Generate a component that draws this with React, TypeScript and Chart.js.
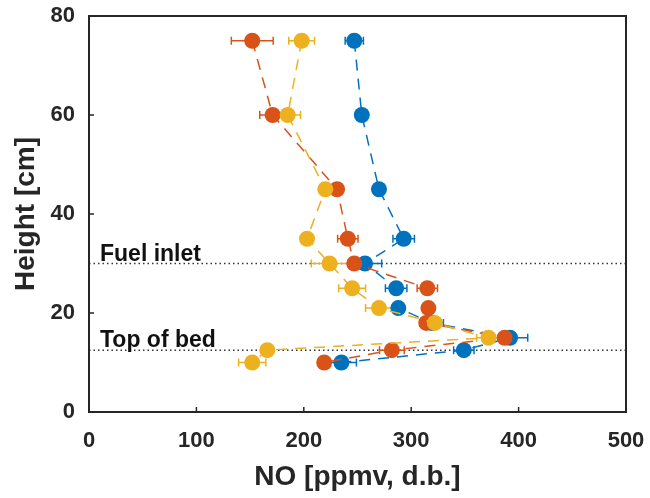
import React, { useEffect, useRef } from "react";
import { Chart, registerables } from "chart.js";

Chart.register(...registerables);

// ---- data ----
const heights = [75, 60, 45, 35, 30, 25, 21, 18, 15, 12.5, 10];
const blueNO = [247, 254, 270, 293, 257, 286, 288, 319, 392, 349, 235];
const blueErr = [8.5, 2, 3, 10, 15.5, 10, 5, 11, 16.5, 9.5, 14];
const orangeNO = [152, 171, 231, 241, 247, 315, 316, 314, 387, 282, 219];
const orangeErr = [19.5, 12, 3, 9.5, 5, 9.5, 5, 5, 5, 11.5, 5];
const yellowNO = [198, 185, 220, 203, 224, 245, 270, 322, 372, 166, 152];
const yellowErr = [12, 12, 3, 4, 17, 12.5, 12.5, 5, 11, 4, 12.7];
const seriesNames = ["Series 1", "Series 2", "Series 3"];
const seriesColors = ["#0072BD", "#D95319", "#EDB120"];
const xTicks = [0, 100, 200, 300, 400, 500];
const yTicks = [0, 20, 40, 60, 80];
const refHeights = [30, 12.5];
const refLabels = ["Fuel inlet", "Top of bed"];

const FONT = "'Liberation Sans', Arial, Helvetica, sans-serif";
const AXIS = "#262626";

const overlay = {
  id: "overlay",
  beforeDatasetsDraw(chart: any) {
    const { ctx, chartArea: a, scales } = chart;
    const x = scales.x, y = scales.y;
    ctx.save();
    // reference lines + labels
    ctx.strokeStyle = "#333333";
    ctx.lineWidth = 1.5;
    ctx.setLineDash([1.5, 3]);
    ctx.font = `bold 23px ${FONT}`;
    ctx.fillStyle = "#111111";
    ctx.textAlign = "left";
    ctx.textBaseline = "alphabetic";
    refHeights.forEach((h, i) => {
      const py = y.getPixelForValue(h);
      ctx.beginPath();
      ctx.moveTo(a.left, py);
      ctx.lineTo(a.right, py);
      ctx.stroke();
      ctx.fillText(refLabels[i], a.left + 11, py - 3);
    });
    ctx.setLineDash([]);
    // horizontal error bars
    chart.data.datasets.forEach((ds: any) => {
      ctx.strokeStyle = ds.borderColor;
      ctx.lineWidth = 1.5;
      ds.data.forEach((p: any, i: number) => {
        const e = ds.errors[i];
        const l = x.getPixelForValue(p.x - e);
        const r = x.getPixelForValue(p.x + e);
        const py = y.getPixelForValue(p.y);
        ctx.beginPath();
        ctx.moveTo(l, py);
        ctx.lineTo(r, py);
        ctx.moveTo(l, py - 4);
        ctx.lineTo(l, py + 4);
        ctx.moveTo(r, py - 4);
        ctx.lineTo(r, py + 4);
        ctx.stroke();
      });
    });
    ctx.restore();
  },
  afterDraw(chart: any) {
    const { ctx, chartArea: a, scales } = chart;
    const x = scales.x, y = scales.y;
    ctx.save();
    ctx.strokeStyle = AXIS;
    ctx.lineWidth = 2;
    ctx.setLineDash([]);
    ctx.strokeRect(a.left, a.top, a.right - a.left, a.bottom - a.top);
    ctx.lineWidth = 1.5;
    ctx.beginPath();
    x.ticks.forEach((t: any) => {
      const px = x.getPixelForValue(t.value);
      ctx.moveTo(px, a.bottom);
      ctx.lineTo(px, a.bottom - 5);
    });
    y.ticks.forEach((t: any) => {
      const py = y.getPixelForValue(t.value);
      ctx.moveTo(a.left, py);
      ctx.lineTo(a.left + 5, py);
    });
    ctx.stroke();
    ctx.restore();
  },
};

function makeDataset(i: number, xs: number[], errs: number[], order: number) {
  return {
    label: seriesNames[i],
    data: heights.map((h, k) => ({ x: xs[k], y: h })),
    errors: errs,
    showLine: true,
    borderColor: seriesColors[i],
    backgroundColor: seriesColors[i],
    borderWidth: 1.5,
    borderDash: [11, 8],
    pointRadius: 8,
    pointBorderWidth: 0,
    pointBackgroundColor: seriesColors[i],
    pointBorderColor: seriesColors[i],
    tension: 0,
    order,
  };
}

function zeroPad(s: any) {
  s.paddingTop = 0;
  s.paddingBottom = 0;
  s.paddingLeft = 0;
  s.paddingRight = 0;
}

export default function App() {
  const ref = useRef<HTMLCanvasElement>(null);
  useEffect(() => {
    if (!ref.current) return;
    const chart = new Chart(ref.current, {
      type: "scatter",
      data: {
        datasets: [
          makeDataset(0, blueNO, blueErr, 2),
          makeDataset(1, orangeNO, orangeErr, 1),
          makeDataset(2, yellowNO, yellowErr, 0),
        ] as any,
      },
      options: {
        animation: false,
        responsive: false,
        layout: { padding: { left: 0, right: 24, top: 16, bottom: 0 } },
        plugins: { legend: { display: false }, tooltip: { enabled: false } },
        scales: {
          x: {
            type: "linear",
            min: 0,
            max: 500,
            grid: { display: false, drawTicks: false },
            border: { display: false },
            afterBuildTicks: (s: any) => {
              s.ticks = xTicks.map((v) => ({ value: v }));
            },
            afterFit: (s: any) => {
              s.height = 86;
              zeroPad(s);
            },
            ticks: {
              color: AXIS,
              padding: 16,
              font: { family: FONT, size: 22, weight: "bold" },
            },
            title: {
              display: true,
              text: "NO [ppmv, d.b.]",
              color: AXIS,
              font: { family: FONT, size: 28, weight: "bold" },
              padding: { top: 0, bottom: 4 },
            },
          },
          y: {
            type: "linear",
            min: 0,
            max: 80,
            grid: { display: false, drawTicks: false },
            border: { display: false },
            afterBuildTicks: (s: any) => {
              s.ticks = yTicks.map((v) => ({ value: v }));
            },
            afterFit: (s: any) => {
              s.width = 89;
              zeroPad(s);
            },
            ticks: {
              color: AXIS,
              padding: 14,
              font: { family: FONT, size: 22, weight: "bold" },
            },
            title: {
              display: true,
              text: "Height [cm]",
              color: AXIS,
              font: { family: FONT, size: 28, weight: "bold" },
              padding: { top: 9, bottom: 0 },
            },
          },
        },
      } as any,
      plugins: [overlay],
    });
    return () => chart.destroy();
  }, []);
  return (
    <div style={{ position: "absolute", left: 0, top: 0, width: 650, height: 498, background: "#fff" }}>
      <canvas ref={ref} width={650} height={498} />
    </div>
  );
}
